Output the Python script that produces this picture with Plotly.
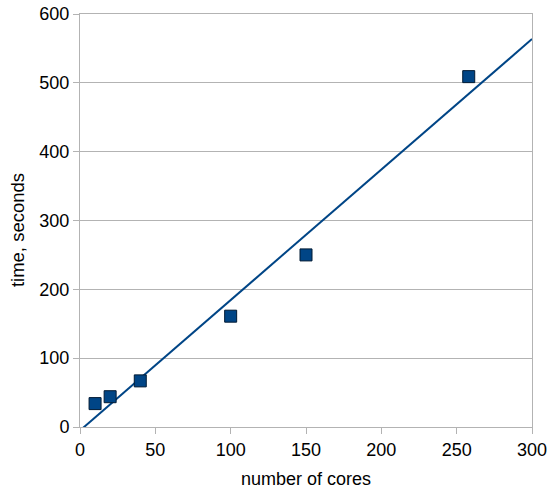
import numpy as np
import plotly.graph_objects as go

cores = [10, 20, 40, 100, 150, 258]
times = [34, 44, 67, 161, 250, 509]

slope, intercept = np.polyfit(cores, times, 1)
line_x = [0, 300]
line_y = [intercept + slope * x for x in line_x]

fig = go.Figure()
fig.add_trace(go.Scatter(x=line_x, y=line_y, mode="lines",
                         line=dict(color="#004586", width=2), showlegend=False,
                         hoverinfo="skip"))
fig.add_trace(go.Scatter(x=cores, y=times, mode="markers",
                         marker=dict(symbol="square", size=12, color="#004586",
                                     line=dict(color="#001a33", width=1)),
                         showlegend=False, cliponaxis=False))

axis_common = dict(showline=True, linecolor="#b3b3b3", linewidth=1, mirror=True,
                   ticks="outside", ticklen=6, tickcolor="#b3b3b3",
                   tickfont=dict(family="Liberation Sans", size=18, color="black"),
                   zeroline=False, automargin=False, ticklabeloverflow="allow")
fig.update_layout(
    width=547, height=489,
    margin=dict(l=80, r=15, t=14, b=62),
    plot_bgcolor="white", paper_bgcolor="white",
    font=dict(family="Liberation Sans", color="black"),
    xaxis=dict(range=[0, 300], tickvals=[0, 50, 100, 150, 200, 250, 300],
               showgrid=False,
               title=dict(text="number of cores", font=dict(size=18), standoff=14),
               **axis_common),
    yaxis=dict(range=[0, 600], tickvals=[0, 100, 200, 300, 400, 500, 600],
               showgrid=True, gridcolor="#b3b3b3", gridwidth=1,
               **axis_common),
    annotations=[dict(text="time, seconds", textangle=-90, showarrow=False,
                      xref="paper", yref="paper", x=-0.137, y=0.477,
                      xanchor="center", yanchor="middle",
                      font=dict(family="Liberation Sans", size=18.5, color="black"))],
)
fig.write_html("out.html", config={"displayModeBar": False},
               post_script="document.body.style.margin='0';")
